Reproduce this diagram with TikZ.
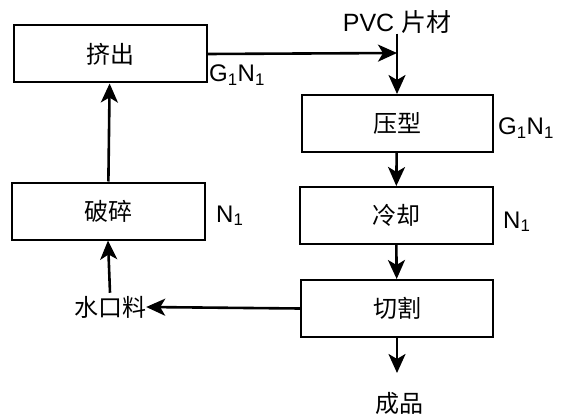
\documentclass[tikz,border=0pt]{standalone}
\usepackage{fontspec}
\setmainfont{Liberation Sans}
\newfontfamily\cjk{Noto Sans CJK SC}
\usetikzlibrary{arrows.meta}

\begin{document}
\begin{tikzpicture}[
    x=1pt, y=-1pt,
    box/.style={
        draw,
        line width=2pt,
        minimum width=193pt,
        minimum height=57pt,
        align=center,
        font=\cjk\fontsize{24}{30}\selectfont
    },
    label/.style={
        inner sep=0pt,
        font=\fontsize{24}{28}\selectfont
    },
    word/.style={
        inner sep=0pt,
        font=\cjk\fontsize{24}{30}\selectfont
    },
    arrow/.style={-{Stealth[length=19pt,width=17pt,inset=5pt]}, line width=2.6pt}
]
\useasboundingbox (0,0) rectangle (569,414);
%==========================
% left column
%==========================
\node[box] (jc) at (110,54)  {挤出};
\node[box] (ps) at (108,211) {破碎};
\node[word] (skl) at (110,307) {水口料};

\draw[arrow] (skl.north) ++(0,-3) -- (ps.south);
\draw[arrow] (ps) -- (jc);

\node[label, anchor=base west] (g1) at (209,82)  {G\textsubscript{1}N\textsubscript{1}};
\node[label, anchor=base west] (n1) at (216,222) {N\textsubscript{1}};

%==========================
% right column
%==========================
\node[label, font=\fontsize{25}{30}\selectfont] (pvc) at (397,22) {PVC {\cjk 片材}};
\coordinate (join) at (397,53);

\node[box, minimum width=191pt] (yx) at (397,123.5) {压型};
\node[box] (lq) at (396,215.5) {冷却};
\node[box, minimum width=192pt] (qg) at (397,308.5) {切割};
\node[word] (cp) at (399,403) {成品};

\draw[arrow] (jc.east) -- (join);
\draw[arrow] (pvc.south) -- (yx.north);
\draw[arrow] (yx) -- (lq);
\draw[arrow] (lq) -- (qg);
\draw[arrow] (qg.south) -- ++(0,35);
\draw[arrow] (qg.west) -- (skl.east);

\node[label, anchor=base west] (g2) at (498,135) {G\textsubscript{1}N\textsubscript{1}};
\node[label, anchor=base west] (n2) at (503,228) {N\textsubscript{1}};

\end{tikzpicture}
\end{document}
